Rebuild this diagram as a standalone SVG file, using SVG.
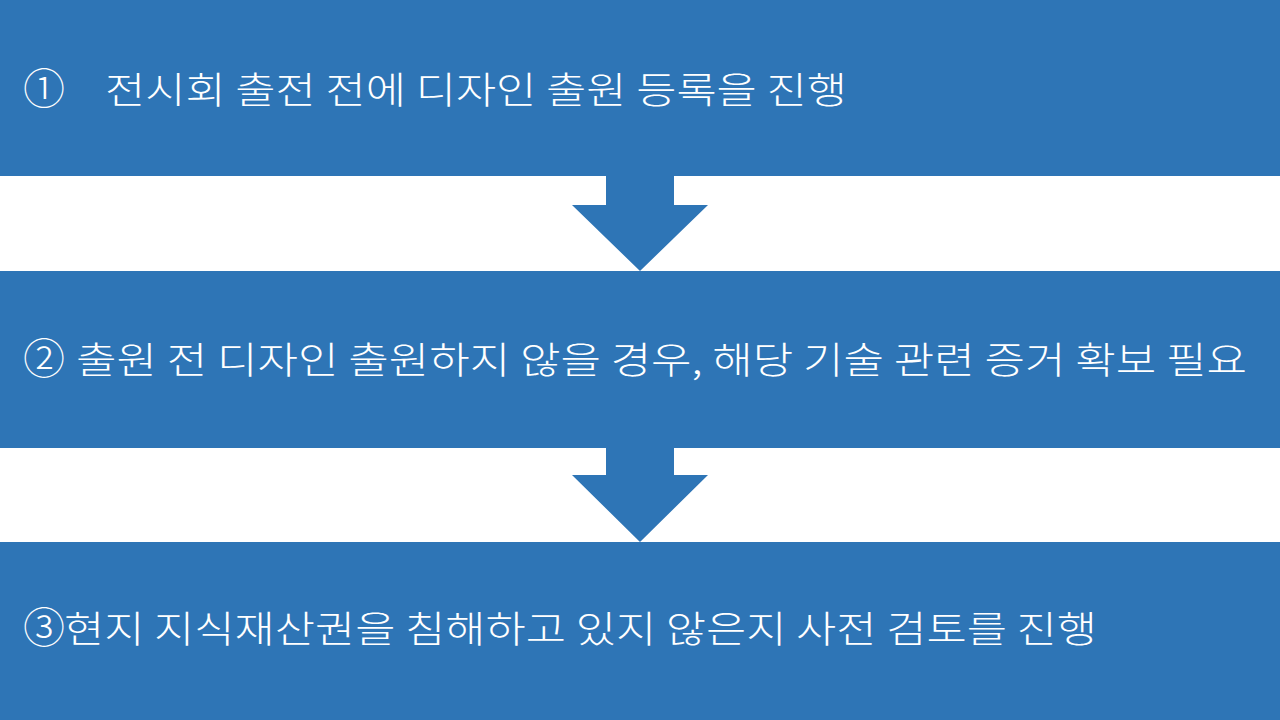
<svg xmlns="http://www.w3.org/2000/svg" width="1280" height="720" viewBox="0 0 1280 720">
<style>
.band{fill:#2E75B6}
.arrow{fill:#2E75B6}
.t{font-family:"Noto Sans CJK KR","Noto Sans",sans-serif;font-size:37px;font-weight:300;fill:#FFFFFF}
.n{font-size:42px}
</style>
<rect x="0" y="0" width="1280" height="720" fill="#FFFFFF"/>
<g id="connectors">
<polygon class="arrow" points="606,170 674,170 674,205 708,205 640,271 572,205 606,205"/>
<polygon class="arrow" points="606,440 674,440 674,475 708,475 640,542 572,475 606,475"/>
</g>
<g id="node1">
<rect class="band" x="0" y="0" width="1280" height="176"/>
<text class="t" x="23" y="104"><tspan class="n">①</tspan></text>
<text class="t" x="105" y="104" textLength="742" lengthAdjust="spacingAndGlyphs">전시회 출전 전에 디자인 출원 등록을 진행</text>
</g>
<g id="node2">
<rect class="band" x="0" y="271" width="1280" height="177"/>
<text class="t" x="23" y="374"><tspan class="n">②</tspan></text>
<text class="t" x="76" y="374" textLength="1171" lengthAdjust="spacingAndGlyphs">출원 전 디자인 출원하지 않을 경우, 해당 기술 관련 증거 확보 필요</text>
</g>
<g id="node3">
<rect class="band" x="0" y="542" width="1280" height="178"/>
<text class="t" x="23" y="643"><tspan class="n">③</tspan></text>
<text class="t" x="64" y="643" textLength="1033" lengthAdjust="spacingAndGlyphs">현지 지식재산권을 침해하고 있지 않은지 사전 검토를 진행</text>
</g>
</svg>
